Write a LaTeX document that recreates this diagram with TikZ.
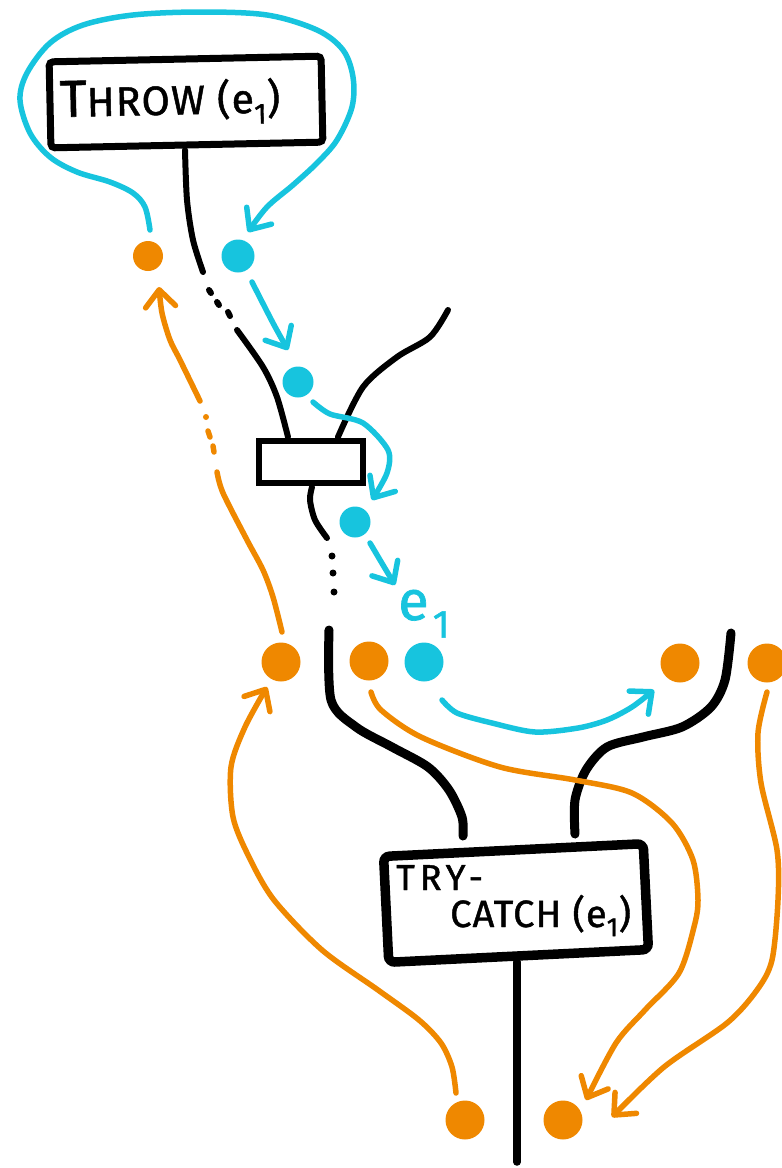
\documentclass[tikz,border=0pt]{standalone}
\usepackage{fontspec}
\setmainfont{Fira Sans}[FakeBold=1.2]
\usetikzlibrary{arrows.meta}
\definecolor{myor}{RGB}{239,136,0}
\definecolor{mycy}{RGB}{23,196,222}
\begin{document}
\begin{tikzpicture}[x=1pt,y=-1pt,
  wire/.style={line width=6pt, line cap=round, line join=round},
  thickwire/.style={line width=9pt, line cap=round, line join=round},
  flowc/.style={line width=5.5pt, line cap=round, line join=round, draw=mycy},
  flowo/.style={line width=5.5pt, line cap=round, line join=round, draw=myor},
  tip/.style={-{Straight Barb[length=17pt,width=30pt,line cap=round,line join=round]}},
  odot/.style={circle, fill=myor, minimum size=39pt, inner sep=0pt},
  cdot/.style={circle, fill=mycy, minimum size=34pt, inner sep=0pt},
  wdot/.style={circle, fill=black, minimum size=7pt, inner sep=0pt},
  txt/.style={inner sep=0pt, anchor=base west}
]
\useasboundingbox (0,0) rectangle (782,1168);

% boxes
\node[draw, line width=7pt, rounded corners=4pt, minimum width=272pt, minimum height=86pt, rotate=1.2] (throw) at (186,102) {};
\node[txt, rotate=1.2] (throwtxt) at (60,117) {\fontsize{52}{52}\selectfont T\fontsize{41}{41}\selectfont\addfontfeature{LetterSpace=3}HROW (e\textsubscript{1})};
\node[draw, line width=6pt, minimum width=104pt, minimum height=42pt] (mid) at (311,462) {};
\node[draw, line width=9.5pt, rounded corners=6pt, minimum width=260pt, minimum height=106pt, rotate=2.8] (tc) at (516,903) {};
\node[txt] (trytxt) at (396,890) {\fontsize{36}{36}\selectfont\addfontfeature{LetterSpace=14}TRY-};
\node[txt] (catchtxt) at (450,927) {\fontsize{38}{38}\selectfont\addfontfeature{LetterSpace=3}CATCH (e\textsubscript{1})};

% dots
\node[odot, minimum size=30pt] (o1) at (148,256) {};
\node[cdot, minimum size=33pt] (c1) at (238,256) {};
\node[cdot, minimum size=31pt] (c2) at (298,382) {};
\node[cdot, minimum size=31pt] (c3) at (355,522) {};
\node[odot] (o2) at (281,662) {};
\node[odot] (o3) at (369,661) {};
\node[cdot, minimum size=39pt] (c4) at (424,662) {};
\node[odot] (o4) at (680,663) {};
\node[odot] (o5) at (767,663) {};
\node[odot] (o6) at (465,1120) {};
\node[odot] (o7) at (563,1120) {};

\node[txt, text=mycy] (elab) at (398,620) {\fontsize{56}{56}\selectfont e\kern4pt\textsubscript{1}};

% black wires
\draw[wire] plot[smooth] coordinates {(185,150) (187,200) (193,240) (203,272)};
\draw[wire] (209,290) -- (211,293);
\draw[wire] (217,302) -- (219,305);
\draw[wire] (228,312) -- (230,316);
\draw[wire] plot[smooth] coordinates {(237,330) (263,367) (277,397) (288,437)};
\draw[wire] plot[smooth] coordinates {(448,310) (430,337) (397,357) (363,387) (338,437)};
\draw[wire] plot[smooth] coordinates {(312,487) (310,500) (315,520) (327,538)};
\node[wdot] (d1) at (332,556) {};
\node[wdot] (d2) at (333,573) {};
\node[wdot] (d3) at (334,592) {};
\draw[thickwire] plot[smooth] coordinates {(329,630) (331,700) (356,727) (392,747) (428,767) (449,790) (462,817) (463,836)};
\draw[thickwire] plot[smooth] coordinates {(731,633) (725,680) (711,707) (682,727) (643,737) (607,747) (586,770) (575,800) (575,834)};
\draw[line width=7.5pt, line cap=round] (517,962) -- (517,1162);

% blue flows
\draw[flowc, tip] plot[smooth, tension=0.55] coordinates {(150,230) (145,207) (133,193) (110,182) (77,172) (50,157) (30,133) (20,100) (27,73) (50,43) (83,25) (133,15) (200,12) (267,15) (317,30) (343,50) (353,77) (352,107) (337,140) (317,163) (293,185) (267,207) (248,232)};
\draw[flowc, tip] plot[smooth] coordinates {(252,282) (273,323) (288,350)};
\draw[flowc, tip] plot[smooth] coordinates {(313,402) (330,414) (363,423) (388,450) (387,473) (372,500)};
\draw[flowc, tip] plot[smooth] coordinates {(370,543) (383,565) (395,585)};
\draw[flowc, tip] plot[smooth] coordinates {(442,700) (457,713) (492,723) (535,732) (578,728) (607,720) (632,707) (654,690)};

% orange flows
\draw[flowo] plot[smooth] coordinates {(282,632) (273,597) (263,570) (247,540) (223,493) (217,472)};
\fill[myor] (206,417) circle (3pt);
\draw[flowo] (208,431) -- (210,437);
\draw[flowo] (213,446) -- (214,452);
\draw[flowo, tip] plot[smooth] coordinates {(200,401) (180,360) (170,340) (162,313) (159,287)};
\draw[flowo, tip] plot[smooth] coordinates {(456,1093) (452,1067) (441,1043) (419,1020) (378,990) (322,950) (274,900) (249,857) (233,817) (231,767) (245,727) (267,687)};
\draw[flowo, tip] plot[smooth] coordinates {(371,692) (381,710) (421,737) (500,767) (575,780) (632,793) (672,823) (693,860) (698,900) (694,927) (679,973) (645,1010) (616,1043) (586,1100)};
\draw[flowo, tip] plot[smooth] coordinates {(767,692) (758,733) (761,783) (777,850) (778,900) (772,960) (757,990) (727,1023) (664,1067) (612,1117)};
\end{tikzpicture}
\end{document}
